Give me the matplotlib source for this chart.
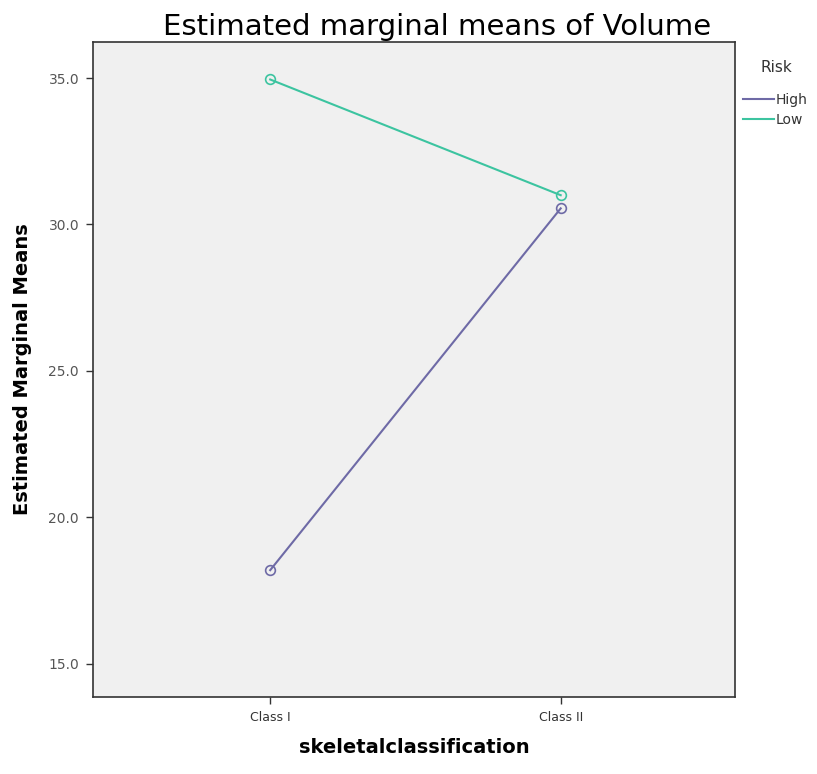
import numpy as np
import matplotlib.pyplot as plt

categories = ['Class I', 'Class II']
high_means = [18.2, 30.55]
low_means = [34.95, 31.0]
series_names = ['High', 'Low']
yticks = [15.0, 20.0, 25.0, 30.0, 35.0]

col_high = '#6e6aa6'
col_low = '#3cc4a0'

fig = plt.figure(figsize=(8.17, 7.74), dpi=100)
ax = fig.add_axes([93/817, 77/774, 642/817, 655/774])
ax.set_facecolor('#f0f0f0')

x = np.arange(len(categories))
ax.plot(x, high_means, color=col_high, lw=1.5, marker='o', ms=7,
        mfc='none', mec=col_high, mew=1.2, label=series_names[0])
ax.plot(x, low_means, color=col_low, lw=1.5, marker='o', ms=7,
        mfc='none', mec=col_low, mew=1.2, label=series_names[1])

ax.set_xlim(-0.61, 1.60)
ax.set_ylim(13.87, 36.23)
ax.set_xticks(x)
ax.set_xticklabels(categories, fontsize=9, color='#333333')
ax.set_yticks(yticks)
ax.set_yticklabels(['%.1f' % v for v in yticks], fontsize=10, color='#555555')
ax.tick_params(direction='out', length=5, width=1, color='#333333', pad=5)
for s in ax.spines.values():
    s.set_color('#333333')
    s.set_linewidth(1.2)

ax.set_xlabel('skeletalclassification', fontsize=14, fontweight='bold', labelpad=10)
ax.set_ylabel('Estimated Marginal Means', fontsize=14, fontweight='bold', labelpad=12)
fig.text(437/817, 1 - 27/774, 'Estimated marginal means of Volume',
         ha='center', va='center', fontsize=21)

# legend on the right
fig.text(776/817, 1 - 67/774, 'Risk', ha='center', va='center', fontsize=11, color='#333333')
leg = ax.legend(loc='upper left', bbox_to_anchor=(1.0, 0.935), frameon=False,
                handlelength=2.2, handletextpad=0.1, fontsize=10, borderaxespad=0.2,
                labelspacing=0.45, markerscale=0)
for h in leg.legend_handles:
    h.set_marker('')
for t in leg.get_texts():
    t.set_color('#333333')

fig.savefig('out.png', dpi=100)
